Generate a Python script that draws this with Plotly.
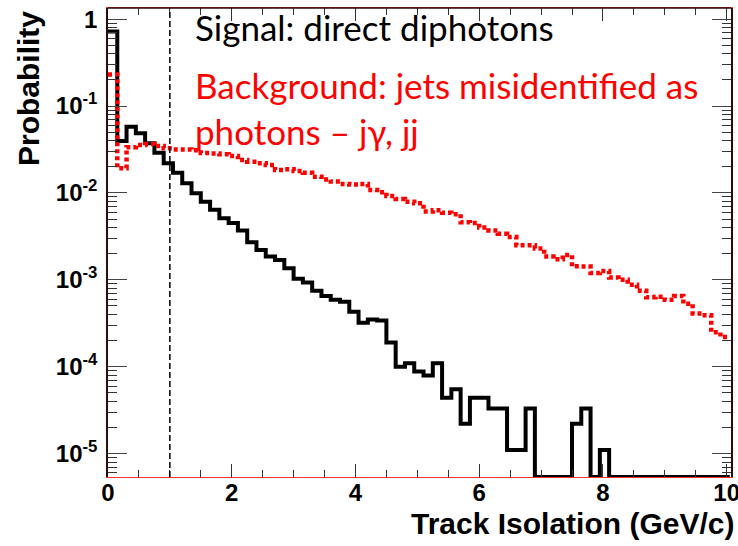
import numpy as np
import plotly.graph_objects as go

# Track-isolation distributions, probability per 0.15 GeV/c bin
BIN_WIDTH = 0.15
signal = [
    0.72, 0.0396, 0.0578, 0.0485, 0.0372, 0.0290, 0.0219, 0.0171, 0.0129, 0.0099,
    0.0079, 0.0064, 0.0051, 0.0045, 0.0037, 0.0027, 0.0022, 0.00185, 0.00169, 0.00136,
    0.00103, 0.00093, 0.00075, 0.00065, 0.00059, 0.00056, 0.00043, 0.00032, 0.00035, 0.00034,
    0.00019, 0.00010, 0.00011, 0.000088, 0.000079, 0.00011, 0.000044, 0.000055, 0.000022, 0.000044,
    0.000044, 0.000033, 0.000033, 0.000011, 0.000011, 0.000033, 0.0, 0.0, 0.0, 0.0,
    0.000022, 0.000033, 0.0, 0.000011, 0.0, 0.0, 0.0, 0.0, 0.0, 0.0,
    0.0, 0.0, 0.0, 0.0, 0.0, 0.0, 0.0,
]
background = [
    0.23, 0.0192, 0.0335, 0.0356, 0.0365, 0.0347, 0.0326, 0.0317, 0.0317, 0.0310,
    0.0288, 0.0284, 0.0278, 0.0266, 0.0239, 0.0229, 0.0219, 0.0209, 0.0183, 0.0187,
    0.0179, 0.0171, 0.0154, 0.0143, 0.0135, 0.0127, 0.0125, 0.0127, 0.0108, 0.0102,
    0.0092, 0.0085, 0.0079, 0.0076, 0.0061, 0.0063, 0.0059, 0.0057, 0.0046, 0.0045,
    0.0040, 0.0037, 0.0034, 0.0031, 0.0025, 0.0025, 0.0023, 0.00185, 0.00172, 0.00193,
    0.00143, 0.00142, 0.00120, 0.00126, 0.00106, 0.00100, 0.00088, 0.00075, 0.00063, 0.00064,
    0.00059, 0.00065, 0.00053, 0.00041, 0.00039, 0.00025, 0.00022,
]
isolation_cut = 1.0

y_tick_vals = [1, 1e-1, 1e-2, 1e-3, 1e-4, 1e-5]
y_tick_text = ["1", "10<sup>-1</sup>", "10<sup>-2</sup>", "10<sup>-3</sup>",
               "10<sup>-4</sup>", "10<sup>-5</sup>"]
x_tick_vals = [0, 2, 4, 6, 8, 10]

X_RANGE = [0, 10.07]
LOG_Y_RANGE = [-5.269, 0.128]
floor = 10 ** LOG_Y_RANGE[0]

edges = np.arange(len(signal) + 1) * BIN_WIDTH


def step_trace(values, **line):
    v = np.asarray(values, dtype=float)
    v = np.where(v > 0, v, floor)  # empty bins sit on the axis floor
    return go.Scatter(x=edges, y=np.append(v, v[-1]), mode="lines",
                      line_shape="hv", line=line, hoverinfo="skip",
                      showlegend=False)


W, H = 738, 546
L, R, T, B = 108, 7, 8, 69


def px(xp):
    return (xp - L) / (W - L - R)


def py(yp):
    return (H - B - yp) / (H - T - B)


fig = go.Figure()
fig.add_trace(step_trace(signal, color="black", width=4))
fig.add_trace(step_trace(background, color="#ff0000", width=4.5, dash="4px,3px"))

fig.add_vline(x=isolation_cut, line=dict(color="black", width=1.5, dash="6px,3px"))
# dark top edge of the frame
fig.add_shape(type="line", xref="x domain", yref="y domain", x0=0, x1=1, y0=1, y1=1,
              line=dict(color="#2b0b0b", width=1.5))

HELV = "Liberation Sans, Arial, Helvetica, sans-serif"
axis_font = dict(family=HELV, size=24, color="black", weight="bold")
fig.update_xaxes(range=X_RANGE, tickvals=x_tick_vals, ticks="inside", ticklen=13,
                 tickcolor="#333", tickwidth=1, showline=True, linecolor="#ff3030",
                 linewidth=1, mirror="ticks", showgrid=False, zeroline=False,
                 tickfont=axis_font, ticklabelstandoff=-6, ticklabeloverflow="allow",
                 minor=dict(dtick=0.5, ticks="inside", ticklen=7, tickcolor="#333",
                            showgrid=False))
fig.update_yaxes(type="log", range=LOG_Y_RANGE, tickvals=y_tick_vals, ticktext=y_tick_text,
                 ticks="inside", ticklen=19, tickcolor="#444", tickwidth=1,
                 showline=True, linecolor="#2b0b0b", linewidth=1.5, mirror="ticks",
                 showgrid=False, zeroline=False, tickfont=axis_font, ticklabelstandoff=4,
                 minor=dict(dtick="D1", ticks="inside", ticklen=9, tickcolor="#333",
                            showgrid=False))

title_font = dict(family=HELV, size=30, color="black", weight="bold")
fig.add_annotation(text="Probability", textangle=-90, xref="paper", yref="paper",
                   x=px(28), y=py(89), xanchor="center", yanchor="middle",
                   showarrow=False, font=title_font)
fig.add_annotation(text="Track Isolation (GeV/c)", xref="paper", yref="paper",
                   x=px(736), y=py(523), xanchor="right", yanchor="middle",
                   showarrow=False, font=title_font)

note_font = "Lato, Carlito, Calibri, sans-serif"
fig.add_annotation(text="Signal: direct diphotons", xref="paper", yref="paper",
                   x=px(193), y=py(27), xanchor="left", yanchor="middle",
                   showarrow=False, font=dict(family=note_font, size=35, color="black"))
fig.add_annotation(text="Background: jets misidentified as<br>photons \u2013 j\u03b3, jj",
                   xref="paper", yref="paper", x=px(193), y=py(108), xanchor="left",
                   yanchor="middle", align="left", showarrow=False,
                   font=dict(family=note_font, size=35, color="#ff0000"))

fig.update_layout(width=W, height=H, margin=dict(l=L, r=R, t=T, b=B, autoexpand=False),
                  plot_bgcolor="white", paper_bgcolor="white", showlegend=False)

fig.write_html("out.html")
